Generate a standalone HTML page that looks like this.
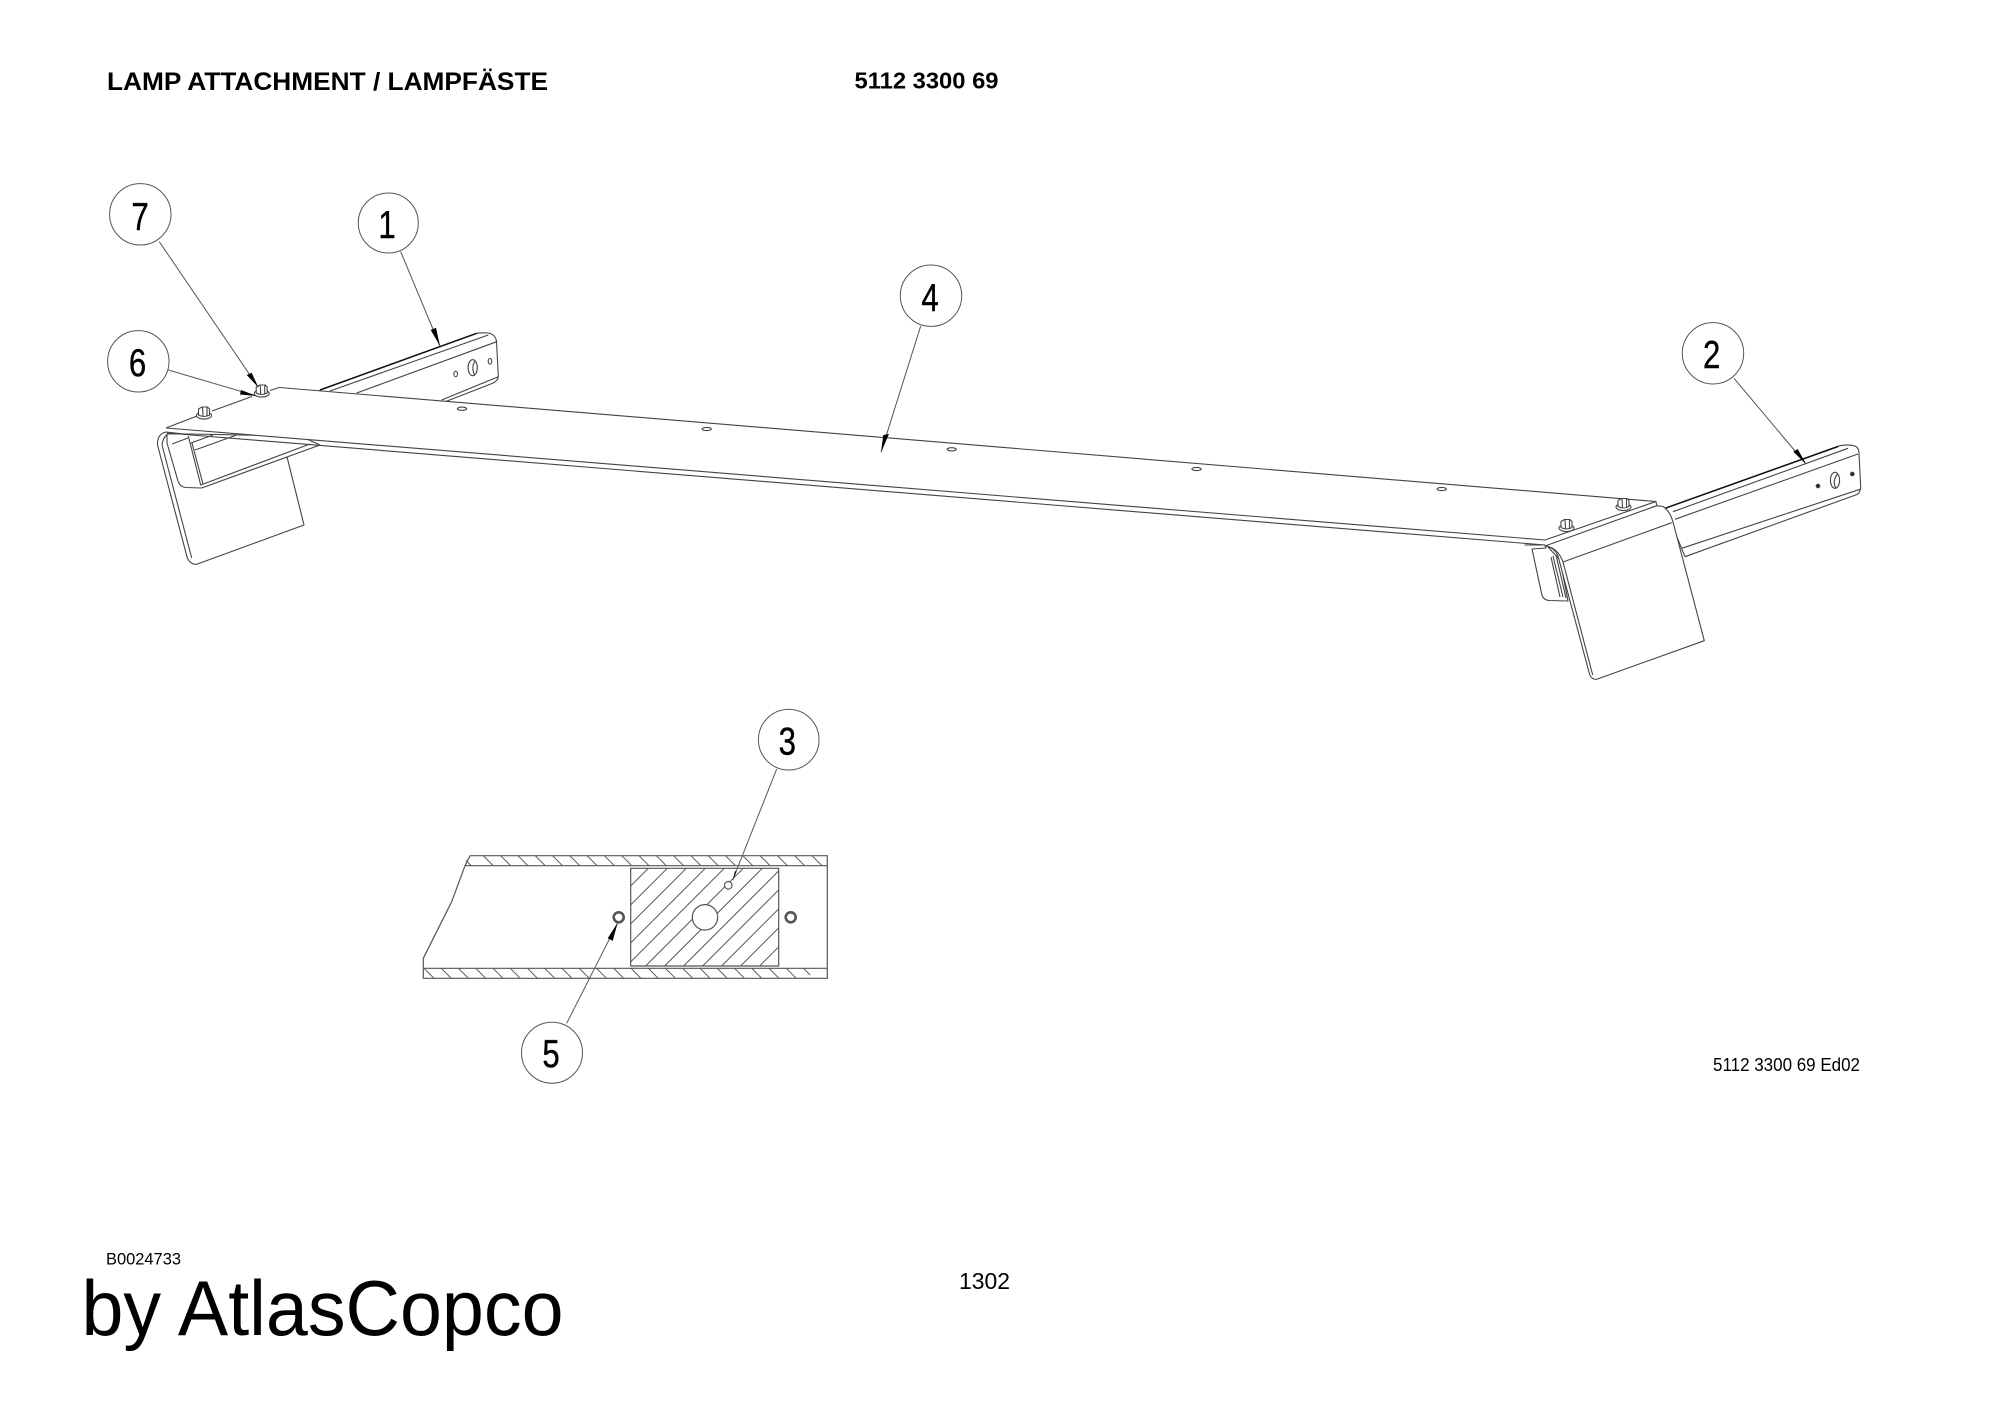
<!DOCTYPE html>
<html><head><meta charset="utf-8"><title>Lamp attachment</title>
<style>html,body{margin:0;padding:0;background:#fff}svg{display:block}text{font-family:"Liberation Sans",sans-serif;fill:#000}</style></head>
<body>
<svg xmlns="http://www.w3.org/2000/svg" width="2000" height="1415" viewBox="0 0 2000 1415">
<rect width="2000" height="1415" fill="#fff"/>
<g fill="none" stroke="#444" stroke-width="1.1" stroke-linejoin="round">
<!-- left rail -->
<path fill="#fff" d="M320 390 L476.7 333.3 Q482 332.5 488 333 Q495 334 496.5 341 L498.3 376 Q498.5 380 493.3 383 L431.7 407 L320 407Z"/>
<path stroke="#111" stroke-width="1.5" d="M320 390 L476.7 333.3"/>
<path d="M330 391 L488.3 335 M356.7 393 L496.7 341.7 M441.7 400 L498.3 376.7"/>
<ellipse cx="455.7" cy="374" rx="1.8" ry="2.8"/><ellipse cx="472.7" cy="367.7" rx="4.6" ry="8"/><path d="M475 361 Q471 367 474.5 375"/><ellipse cx="490" cy="361.3" rx="1.8" ry="2.8"/>
<!-- left flange -->
<path fill="#fff" d="M166 432 Q157 434 157.5 445 L187.3 558 Q190 564 196 564.5 L304 525 L287.3 458 L240 440Z"/>
<path d="M162 445 L191.7 558 M162 445 Q163 437 168 434"/>
<!-- left bracket -->
<path fill="#fff" d="M167 443 L178 481 Q180 487 186 487.5 L201.7 488 L320 445 L300 436 L188 434 L167 434Z"/>
<path d="M188.3 436 L200.7 485 L310 444 M192 443 L203 484 M195 450 L236.7 435 M191 443 L213 435 M172 444 L188 438"/>
<!-- plate -->
<path fill="#fff" stroke="none" d="M166 428 L279.3 387.5 L1656 501.5 L1545 545 Z"/>
<path d="M279.3 387.5 L1656 501.5 L1656.7 505.7 M166 428 L1545 540 L1656 501.5 M167 433 L1545 545"/>
<path d="M166 428 L197 416 M212 411 L252 396.5 M270 390.5 L279.3 387.5"/>
<ellipse cx="462" cy="408.7" rx="4.6" ry="1.6"/><ellipse cx="706.7" cy="429" rx="4.6" ry="1.6"/><ellipse cx="951.7" cy="449.3" rx="4.6" ry="1.6"/><ellipse cx="1196.5" cy="469" rx="4.6" ry="1.6"/><ellipse cx="1441.7" cy="489" rx="4.6" ry="1.6"/>
<!-- nuts -->
<g fill="#fff">
<g transform="translate(261.7 392)"><ellipse cx="0" cy="1.5" rx="7.5" ry="3.6"/><path d="M-5.5 1 L-5.5 -5 L-2 -7 L3.5 -7 L5.5 -5 L5.5 1 Q0 4 -5.5 1Z M-1.5 -7 L-1 2 M3 -6.5 L3 2"/></g>
<g transform="translate(204 414)"><ellipse cx="0" cy="1.5" rx="7.5" ry="3.6"/><path d="M-5.5 1 L-5.5 -5 L-2 -7 L3.5 -7 L5.5 -5 L5.5 1 Q0 4 -5.5 1Z M-1.5 -7 L-1 2 M3 -6.5 L3 2"/></g>
<g transform="translate(1623.5 505.5)"><ellipse cx="0" cy="1.5" rx="7.5" ry="3.6"/><path d="M-5.5 1 L-5.5 -5 L-2 -7 L3.5 -7 L5.5 -5 L5.5 1 Q0 4 -5.5 1Z M-1.5 -7 L-1 2 M3 -6.5 L3 2"/></g>
<g transform="translate(1566.5 526.5)"><ellipse cx="0" cy="1.5" rx="7.5" ry="3.6"/><path d="M-5.5 1 L-5.5 -5 L-2 -7 L3.5 -7 L5.5 -5 L5.5 1 Q0 4 -5.5 1Z M-1.5 -7 L-1 2 M3 -6.5 L3 2"/></g>
</g>
<!-- right rail -->
<path fill="#fff" d="M1665 508.3 L1840 445.7 Q1848 444 1855 446 Q1859 448 1859 453 L1860.7 487 Q1860.7 492 1857 494.5 L1685 556.7 L1670 520Z"/>
<path stroke="#111" stroke-width="1.5" d="M1665 508.3 L1838 446.5"/>
<path d="M1673 511.7 L1848 448.3 M1675 519.3 L1858 454 M1681.7 548.3 L1860 489.3"/>
<circle cx="1818" cy="486" r="1.8" fill="#222"/><circle cx="1852.3" cy="474" r="1.8" fill="#222"/><ellipse cx="1835" cy="480.3" rx="4.6" ry="8"/><path d="M1837.5 474 Q1832 481 1836 488.5"/>
<!-- right bracket -->
<path fill="#fff" d="M1524.5 545 L1545 545 L1546 548 L1532 549 L1541.7 594 Q1543 600 1549 600.5 L1568 601 L1560 560 L1548 547"/>
<path d="M1551 557 L1560 597 M1553 556 L1563 597 M1556 555 L1566 598"/>
<!-- right flange -->
<path fill="#fff" d="M1656.7 505.7 L1545 546 Q1554 547 1558 556 L1589.5 674 Q1591 679 1596 679.5 L1704.3 640.7 L1673 522 Q1670 511 1663 506.5 Z"/>
<path d="M1563 562 L1592.7 675 M1563 562 L1671.7 522.7 M1546 546 Q1558 548 1563 562"/>
<!-- leaders -->
<g stroke="#555" stroke-width="1">
<path d="M159.3 241.7 L258.3 387.3"/><path d="M168.3 370 L256.7 396"/><path d="M400.7 251.7 L440 346"/><path d="M920.7 326 L881 452.3"/><path d="M1734 378.3 L1806 464"/><path d="M776.7 769 L732.7 880"/><path d="M566.7 1023.3 L617.7 922.7"/>
</g>
<!-- balloons -->
<g fill="#fff" stroke="#555" stroke-width="1">
<circle cx="140.3" cy="214.3" r="30.7"/><circle cx="388.3" cy="223" r="30"/><circle cx="138.3" cy="361.3" r="30.7"/><circle cx="931" cy="295.7" r="30.7"/><circle cx="1713" cy="353.3" r="30.7"/><circle cx="788.7" cy="739.7" r="30.3"/><circle cx="552" cy="1052.7" r="30.5"/>
</g>
<!-- section view -->
<g stroke="#555" stroke-width="1.2">
<path d="M470 855.7 H827.3 V978.3 H423.3 V958.3 L451.7 901.7 L465 865.7 L470 855.7 M465 865.7 H827.3 M423.3 968.3 H827.3"/>
<path stroke-width="1" d="M466 860.5 l5.2 5.2 M483.3 855.7 l10 10 m7.3 -10 l10 10 m7.3 -10 l10 10 m7.3 -10 l10 10 m7.3 -10 l10 10 m7.3 -10 l10 10 m7.3 -10 l10 10 m7.3 -10 l10 10 m7.3 -10 l10 10 m7.3 -10 l10 10 m7.3 -10 l10 10 m7.3 -10 l10 10 m7.3 -10 l10 10 m7.3 -10 l10 10 m7.3 -10 l10 10 m7.3 -10 l10 10 m7.3 -10 l10 10 m7.3 -10 l10 10 m7.3 -10 l10 10 m7.3 -10 l10 10"/>
<path stroke-width="1" d="M424 968.3 l10 10 m7.25 -10 l10 10 m7.25 -10 l10 10 m7.25 -10 l10 10 m7.25 -10 l10 10 m7.25 -10 l10 10 m7.25 -10 l10 10 m7.25 -10 l10 10 m7.25 -10 l10 10 m7.25 -10 l10 10 m7.25 -10 l10 10 m7.25 -10 l10 10 m7.25 -10 l10 10 m7.25 -10 l10 10 m7.25 -10 l10 10 m7.25 -10 l10 10 m7.25 -10 l10 10 m7.25 -10 l10 10 m7.25 -10 l10 10 m7.25 -10 l10 10 m7.25 -10 l10 10 m7.25 -10 l10 10 m7.25 -10 l6.6 6.6"/>
<clipPath id="c"><rect x="630.7" y="868.3" width="148" height="97.7"/></clipPath>
<path clip-path="url(#c)" stroke-width="1" d="M648.3 868.3 l-97.7 97.7 M667.3 868.3 l-97.7 97.7 M686.3 868.3 l-97.7 97.7 M705.3 868.3 l-97.7 97.7 M724.3 868.3 l-97.7 97.7 M743.3 868.3 l-97.7 97.7 M762.3 868.3 l-97.7 97.7 M781.3 868.3 l-97.7 97.7 M800.3 868.3 l-97.7 97.7 M819.3 868.3 l-97.7 97.7 M838.3 868.3 l-97.7 97.7 M857.3 868.3 l-97.7 97.7"/>
<rect x="630.7" y="868.3" width="148" height="97.7"/>
<circle cx="705" cy="917.3" r="12.7" fill="#fff"/>
<circle cx="728.3" cy="885.3" r="3.8" fill="#fff"/>
<circle cx="618.7" cy="917.3" r="5" fill="#fff" stroke="#555" stroke-width="2.6"/>
<circle cx="790.7" cy="917.3" r="5" fill="#fff" stroke="#555" stroke-width="2.6"/>
</g>
</g>
<!-- arrowheads -->
<g fill="#000" stroke="none">
<polygon points="440,346 430.7,330 436,327.7"/>
<polygon points="258.3,387.3 246.7,375 251.7,372.7"/>
<polygon points="256.7,396 241,390 240,394.5"/>
<polygon points="881,452.3 883.3,435 889,434"/>
<polygon points="1806,464 1793.3,451.7 1797.7,449"/>
<polygon points="617.7,922.7 607.7,938.3 612.7,940.7"/>
<polygon points="732.7,880 735,871 736.6,871.6"/>
</g>
<!-- balloon numbers -->
<g font-size="39" text-anchor="middle" stroke="#000" stroke-width=".4">
<text transform="translate(140 230) scale(.8 1)">7</text>
<text transform="translate(387 238) scale(.8 1)">1</text>
<text transform="translate(137.5 376) scale(.8 1)">6</text>
<text transform="translate(930 311) scale(.8 1)">4</text>
<text transform="translate(1711.7 367.8) scale(.8 1)">2</text>
<text transform="translate(787.3 754.5) scale(.8 1)">3</text>
<text transform="translate(551 1067) scale(.8 1)">5</text>
</g>
<!-- text -->
<text x="107" y="90" font-size="25" font-weight="700" textLength="441" lengthAdjust="spacingAndGlyphs">LAMP ATTACHMENT / LAMPFÄSTE</text>
<text x="854.5" y="88.5" font-size="23" font-weight="700" textLength="144" lengthAdjust="spacingAndGlyphs">5112 3300 69</text>
<text x="1713" y="1071" font-size="18" textLength="147" lengthAdjust="spacingAndGlyphs">5112 3300 69 Ed02</text>
<text x="106" y="1264.5" font-size="16.5" textLength="75" lengthAdjust="spacingAndGlyphs">B0024733</text>
<text x="81.5" y="1335" font-size="78" textLength="482" lengthAdjust="spacingAndGlyphs">by AtlasCopco</text>
<text x="959" y="1289" font-size="23" textLength="51" lengthAdjust="spacingAndGlyphs">1302</text>
</svg>
</body></html>
